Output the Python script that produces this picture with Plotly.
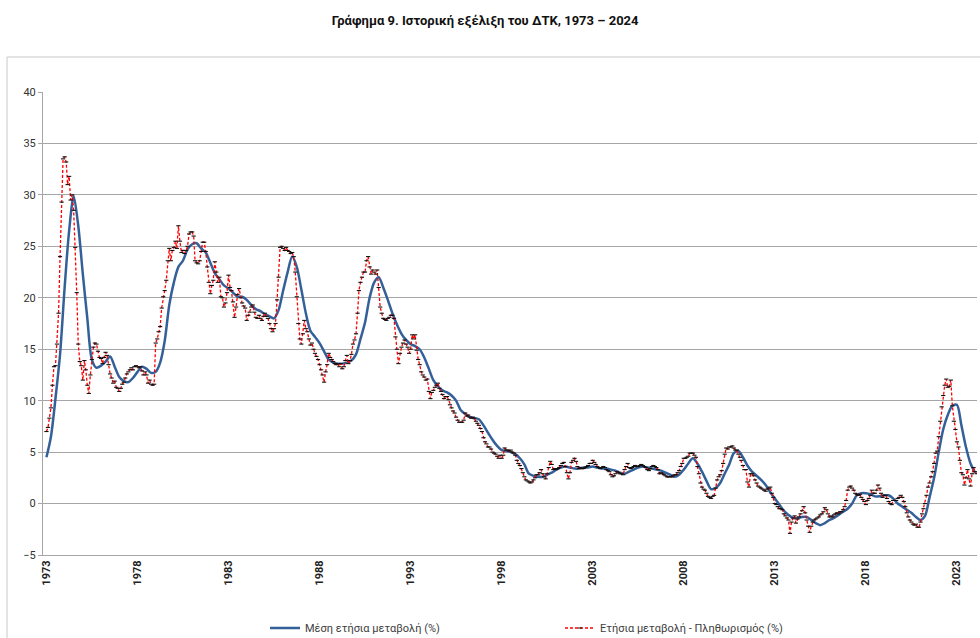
import pandas as pd
import plotly.graph_objects as go

title_text = "Γράφημα 9. Ιστορική εξέλιξη του ΔΤΚ, 1973 – 2024"
name_avg = "Μέση ετήσια μεταβολή (%)"
name_yoy = "Ετήσια μεταβολή - Πληθωρισμός (%)"

# Monthly annual change (%), Jan 1973 onwards
yoy_1970s = [
    7.0, 7.4, 8.3, 9.3, 11.5, 13.3, 13.4, 15.5, 18.5, 24.0, 29.3, 33.5,
    33.7, 33.2, 31.0, 31.8, 29.5, 30.0, 28.5, 24.9, 20.5, 15.5, 13.8, 13.4,
    12.0, 13.9, 13.0, 11.5, 10.7, 12.5, 14.0, 15.2, 15.6, 15.5, 14.8, 14.2,
    14.1, 13.6, 14.2, 14.7, 14.4, 13.5, 12.6, 12.2, 11.7, 11.9, 11.3, 11.2,
    10.9, 11.2, 11.6, 11.8, 12.2, 12.6, 12.8, 13.0, 13.2, 13.0, 13.3, 13.4,
    13.3, 13.2, 13.3, 12.9, 12.5, 12.8, 12.5, 11.7, 12.0, 11.6, 11.5, 11.6,
    15.6, 16.0, 16.7, 17.2, 19.0, 20.1, 20.7, 21.7, 23.6, 24.8, 23.6, 24.6,
]
yoy_1980s = [
    24.9, 25.5, 24.8, 27.0, 25.5, 24.4, 24.6, 24.3, 24.6, 25.0, 26.2, 26.4,
    26.4, 26.0, 23.6, 23.4, 23.3, 23.6, 24.5, 25.4, 25.4, 24.5, 23.0, 21.5,
    20.4, 21.2, 21.7, 23.5, 22.5, 21.5, 22.0, 20.1, 20.0, 19.1, 19.5, 20.5,
    22.2, 21.0, 20.7, 19.6, 18.1, 19.1, 20.3, 20.9, 20.0, 19.5, 19.2, 19.0,
    17.8, 18.3, 18.6, 19.1, 19.3, 18.6, 18.1, 18.0, 18.3, 18.0, 17.8, 18.2,
    18.5, 18.2, 18.0, 17.5, 17.0, 16.7, 17.0, 17.5, 19.8, 22.0, 24.9, 25.0,
    24.8, 24.6, 24.9, 24.6, 24.5, 24.3, 24.4, 24.0, 22.5, 20.1, 17.5, 16.0,
    15.5, 16.5, 17.8, 17.0, 16.7, 16.0, 15.4, 15.6, 15.0, 14.6, 14.3, 14.0,
    13.5, 13.0, 12.5, 11.8, 12.8, 13.5, 14.6, 14.2, 14.0, 13.8, 13.6, 13.5,
    13.6, 13.3, 13.6, 13.1, 13.3, 13.9, 14.4, 13.6, 13.9, 14.5, 15.5, 15.9,
]
yoy_1990s = [
    16.5, 18.5, 20.7, 21.5, 22.0, 22.5, 22.5, 23.6, 24.0, 23.0, 22.3, 22.7,
    22.5, 22.3, 22.7, 21.0, 19.1, 18.5, 18.0, 17.9, 17.8, 18.0, 18.1, 18.3,
    18.3, 18.0, 16.2, 15.0, 13.6, 14.6, 15.2, 15.6, 15.9, 15.5, 15.2, 14.6,
    15.0, 16.4, 16.0, 16.4, 14.9, 14.0, 13.5, 12.8, 12.5, 12.3, 12.0, 12.1,
    10.9, 10.2, 10.8, 11.0, 11.3, 11.5, 11.7, 11.2, 10.9, 10.6, 10.2, 10.4,
    10.4, 10.1, 9.6, 9.3, 9.0, 8.8, 8.4, 8.1, 7.9, 7.9, 7.9, 8.1,
    8.8, 8.5, 8.6, 8.4, 8.3, 8.4, 8.3, 8.0, 7.8, 7.6, 7.3, 7.0,
    6.4, 6.0, 5.8, 5.5, 5.5, 5.3, 5.0, 4.9, 4.8, 4.6, 4.4, 4.7,
    4.4, 4.7, 5.4, 5.2, 5.2, 5.1, 5.2, 5.0, 4.9, 4.7, 4.2, 3.9,
    3.7, 3.4, 3.0, 2.6, 2.3, 2.2, 2.1, 2.0, 2.1, 2.3, 2.5, 2.8,
]
yoy_2000s = [
    2.8, 3.0, 3.3, 2.9, 2.6, 2.4, 2.9, 3.5, 4.1, 3.8, 3.3, 3.4,
    3.3, 3.4, 3.5, 3.7, 3.9, 4.0, 3.6, 3.0, 2.4, 3.0, 4.0, 4.2,
    4.4, 4.1, 3.6, 3.4, 3.5, 3.4, 3.4, 3.5, 3.6, 3.7, 3.9, 3.9,
    4.2, 4.0, 3.8, 3.6, 3.5, 3.4, 3.5, 3.6, 3.5, 3.3, 3.2, 3.1,
    2.8, 2.6, 2.7, 2.9, 3.1, 3.0, 2.9, 2.9, 2.8, 3.3, 3.6, 3.9,
    3.5, 3.4, 3.5, 3.6, 3.7, 3.6, 3.6, 3.7, 3.8, 3.7, 3.6, 3.5,
    3.3, 3.2, 3.4, 3.6, 3.7, 3.6, 3.5, 3.3, 2.9, 3.0, 2.9, 2.8,
    2.7, 2.6, 2.6, 2.6, 2.6, 2.7, 2.8, 2.8, 3.0, 3.2, 3.6, 3.9,
    4.4, 4.4, 4.5, 4.6, 4.9, 4.9, 4.9, 4.7, 4.5, 3.6, 2.9, 2.0,
    1.6, 1.4, 1.3, 1.0, 0.7, 0.6, 0.5, 0.7, 0.8, 1.5, 2.3, 2.6,
]
yoy_2010s = [
    2.8, 3.2, 3.9, 4.8, 5.4, 5.3, 5.5, 5.5, 5.6, 5.4, 5.2, 5.2,
    4.8, 4.5, 4.2, 3.7, 3.3, 3.3, 2.1, 1.6, 2.9, 2.9, 2.7, 2.3,
    2.0, 1.7, 1.6, 1.5, 1.4, 1.3, 1.2, 1.4, 1.5, 1.6, 1.0, 0.6,
    0.0, -0.1, -0.3, -0.5, -0.5, -0.6, -1.0, -1.2, -1.4, -1.6, -2.9, -1.8,
    -1.4, -1.2, -1.9, -1.5, -1.3, -1.0, -0.7, -0.3, -0.9, -1.6, -2.2, -2.8,
    -2.2, -1.8, -1.6, -1.5, -1.4, -1.3, -1.1, -1.0, -0.8, -0.4, -0.6, -1.0,
    -1.3, -1.2, -1.3, -1.1, -1.0, -0.9, -1.0, -0.8, -0.8, -0.6, -0.3, 0.3,
    1.3, 1.6, 1.7, 1.5, 1.3, 1.0, 0.9, 0.8, 0.9, 0.6, 0.4, 0.2,
    -0.1, 0.3, 0.5, 0.8, 1.3, 1.0, 1.0, 1.3, 1.8, 1.5, 1.0, 0.6,
    0.8, 0.8, 0.5, 0.2, 0.0, -0.1, 0.3, 0.3, 0.3, 0.5, 0.6, 0.8,
]
yoy_2020s = [
    0.6, 0.2, -0.3, -0.9, -1.3, -1.6, -1.8, -2.0, -2.1, -2.0, -2.3, -2.3,
    -1.8, -1.0, -0.5, 0.0, 0.8, 1.6, 2.0, 2.6, 3.1, 3.9, 4.9, 5.1,
    6.5, 8.0, 9.4, 10.5, 11.5, 12.1, 11.3, 11.4, 12.0, 9.5, 8.0, 7.2,
    6.0, 5.5, 4.2, 3.0, 2.8, 1.8, 2.5, 3.3, 2.4, 1.7, 2.9, 3.5,
    3.1, 2.9,
]

# 12-month average annual change (%), read every 3 months (Jan, Apr, Jul, Oct)
avg_1970s = [
    4.5, 6.5, 10.2, 14.5,
    21.0, 26.5, 29.9, 27.0,
    22.3, 18.0, 14.0, 13.2,
    13.4, 13.8, 14.3, 13.3,
    12.3, 11.9, 11.8, 12.2,
    12.8, 13.3, 13.1, 12.7,
    12.8, 13.7, 15.8, 19.3,
]
avg_1980s = [
    21.5, 23.0, 23.6, 24.7,
    25.2, 25.3, 24.8, 24.4,
    23.4, 22.4, 21.8, 21.2,
    20.9, 20.5, 20.1, 20.1,
    19.8, 19.3, 18.9, 18.7,
    18.4, 18.2, 18.0, 18.8,
    20.7, 22.5, 24.0, 23.0,
    20.8, 18.5, 16.8, 16.2,
    15.6, 14.8, 14.0, 13.7,
    13.6, 13.6, 13.7, 13.9,
]
avg_1990s = [
    14.5, 16.0, 17.6, 20.0,
    21.5, 22.0, 21.0, 19.8,
    18.5, 17.4, 16.5, 15.9,
    15.5, 15.3, 15.0, 14.2,
    13.1, 12.0, 11.4, 11.0,
    10.8, 10.5, 10.0, 9.1,
    8.7, 8.4, 8.3, 8.2,
    7.6, 6.9, 6.2, 5.6,
    5.2, 5.1, 5.0, 4.8,
    4.4, 3.8, 2.9, 2.7,
]
avg_2000s = [
    2.6, 2.6, 2.8, 3.0,
    3.3, 3.5, 3.6, 3.5,
    3.4, 3.4, 3.5, 3.5,
    3.6, 3.5, 3.4, 3.4,
    3.3, 3.2, 3.0, 2.9,
    3.1, 3.3, 3.5, 3.6,
    3.5, 3.4, 3.3, 3.2,
    3.0, 2.8, 2.6, 2.8,
    3.3, 3.9, 4.4, 3.9,
    3.1, 2.2, 1.4, 1.5,
]
avg_2010s = [
    2.0, 2.9, 3.8, 4.9,
    5.1, 4.5, 3.7, 3.1,
    2.7, 2.3, 1.8, 1.1,
    0.5, -0.1, -0.7, -1.1,
    -1.4, -1.4, -1.3, -1.3,
    -1.6, -1.9, -2.1, -1.9,
    -1.6, -1.4, -1.1, -0.8,
    -0.5, 0.0, 0.8, 1.0,
    1.0, 0.9, 0.7, 0.7,
    0.8, 0.8, 0.5, 0.0,
]
avg_2020s = [
    -0.3, -0.6, -0.9, -1.3,
    -1.6, -1.2, 0.6, 2.5,
    5.0, 7.2, 8.6, 9.5,
    9.6, 7.6, 5.5, 3.9,
    3.0,
]

tick_years = [1973, 1978, 1983, 1988, 1993, 1998, 2003, 2008, 2013, 2018, 2023]

yoy = yoy_1970s + yoy_1980s + yoy_1990s + yoy_2000s + yoy_2010s + yoy_2020s
avg = avg_1970s + avg_1980s + avg_1990s + avg_2000s + avg_2010s + avg_2020s

yoy_dates = pd.date_range("1973-01-01", periods=len(yoy), freq="MS")
avg_dates = pd.date_range("1973-01-01", periods=len(avg), freq="3MS")

FONT = "Roboto, 'Noto Sans', sans-serif"
GRID = "#a6a6a6"

fig = go.Figure()
fig.add_trace(go.Scatter(
    x=avg_dates, y=avg, name=name_avg, mode="lines",
    line=dict(color="#34609a", width=2.5, shape="spline", smoothing=0.8),
))
fig.add_trace(go.Scatter(
    x=yoy_dates, y=yoy, name=name_yoy, mode="lines+markers",
    line=dict(color="#ff0000", width=1.3, dash="3px,2px"),
    marker=dict(symbol="line-ew", size=3, color="#000000",
                line=dict(color="#111111", width=1.1)),
))

fig.update_layout(
    width=980, height=638,
    margin=dict(l=43, r=3, t=92, b=83),
    paper_bgcolor="white", plot_bgcolor="white",
    font=dict(family=FONT, size=11, color="#333333"),
    title=dict(text="<b>" + title_text + "</b>", x=0.495, xref="container",
               xanchor="center", y=0.968, yref="container", yanchor="middle",
               font=dict(family=FONT, size=13, color="#111111")),
    showlegend=True,
    legend=dict(orientation="h", xref="container", yref="container",
                x=265 / 980, xanchor="left", y=1 - 628 / 638, yanchor="middle",
                entrywidth=250, entrywidthmode="pixels",
                font=dict(family=FONT, size=11, color="#404040"),
                bgcolor="rgba(0,0,0,0)", tracegroupgap=0),
    shapes=[dict(type="rect", xref="paper", yref="paper",
                 x0=-0.0385, x1=1.05, y0=-0.4, y1=1.0756,
                 line=dict(color="#c8c8c8", width=1), fillcolor="rgba(0,0,0,0)",
                 layer="below")],
)

fig.update_xaxes(
    range=["1972-10-24", "2024-02-08"],
    tickmode="array",
    tickvals=[pd.Timestamp(f"{y}-01-01") for y in tick_years],
    ticktext=[f"<b>{y}</b>" for y in tick_years],
    tickangle=-90, ticks="", showgrid=False,
    showline=True, linecolor=GRID, linewidth=1,
    tickfont=dict(family=FONT, size=11, color="#222222"),
    zeroline=False,
)
fig.update_yaxes(
    range=[-5, 40], dtick=5, tick0=0,
    showgrid=True, gridcolor=GRID, gridwidth=1,
    showline=True, linecolor=GRID, linewidth=1,
    ticks="outside", ticklen=4, tickcolor=GRID,
    zeroline=False,
    tickfont=dict(family=FONT, size=11, color="#333333"),
)

fig.write_html(
    "out.html",
    config={"displayModeBar": False},
    post_script="document.body.style.margin='0';document.body.style.overflow='hidden';",
)
